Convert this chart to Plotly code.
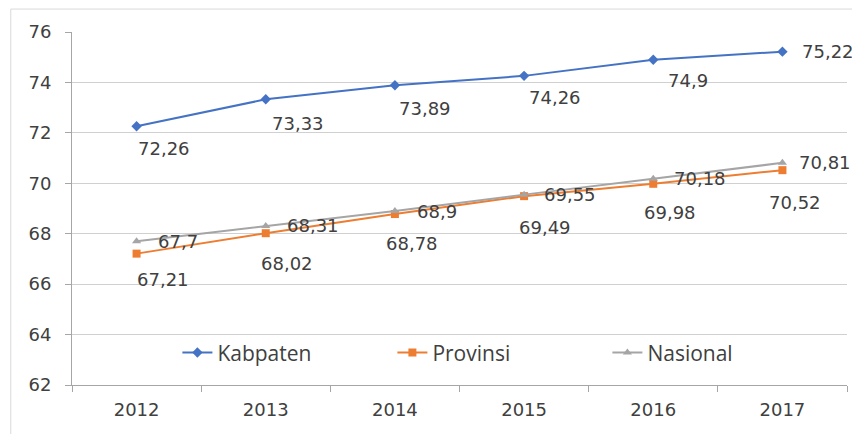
import plotly.graph_objects as go

years = ["2012", "2013", "2014", "2015", "2016", "2017"]
kabupaten = [72.26, 73.33, 73.89, 74.26, 74.9, 75.22]
provinsi = [67.21, 68.02, 68.78, 69.49, 69.98, 70.52]
nasional = [67.7, 68.31, 68.9, 69.55, 70.18, 70.81]


def fmt(v):
    # koma desimal seperti di gambar asli
    return ("%g" % v).replace(".", ",")


font = "DejaVu Sans, sans-serif"
label_color = "#404040"

series = [
    ("Kabpaten", kabupaten, "#4472C4", "diamond"),
    ("Provinsi", provinsi, "#ED7D31", "square"),
    ("Nasional", nasional, "#A5A5A5", "triangle-up"),
]

fig = go.Figure()
for name, vals, color, sym in series:
    fig.add_trace(go.Scatter(
        x=years, y=vals, name=name, mode="lines+markers",
        line=dict(color=color, width=2),
        marker=dict(symbol=sym, size=8, color=color),
        cliponaxis=False,
    ))

# posisi label (geser dalam piksel) per seri
shift_kab = [(27, -22), (32, -24), (30, -23), (31, -22), (35, -21), (46, 0)]
shift_prov = [(26, -26), (21, -30), (17, -29), (21, -31), (17, -29), (13, -32)]
shift_nas = [(41, 0), (47, 0), (42, 0), (46, 0), (47, 0), (43, 0)]

annotations = []
for vals, shifts in [(kabupaten, shift_kab), (provinsi, shift_prov), (nasional, shift_nas)]:
    # sumbu kategori: pakai indeks kategori sebagai posisi x
    for i, (v, (dx, dy)) in enumerate(zip(vals, shifts)):
        annotations.append(dict(
            x=i, y=v, xref="x", yref="y", text=fmt(v), showarrow=False,
            xshift=dx, yshift=dy, xanchor="center", yanchor="middle",
            font=dict(family=font, size=18, color=label_color),
        ))

# halaman punya margin body 8px, jadi ukuran figur dikurangi
fig.update_layout(
    width=852, height=426,
    margin=dict(l=64, r=13, t=24, b=49),
    paper_bgcolor="white", plot_bgcolor="white",
    font=dict(family=font, size=18, color=label_color),
    annotations=annotations,
    legend=dict(orientation="h", x=0.136, xanchor="left", y=0.091, yanchor="middle",
                bgcolor="rgba(0,0,0,0)", font=dict(family="Open Sans, sans-serif", size=21),
                entrywidth=170, entrywidthmode="pixels", traceorder="normal"),
    xaxis=dict(type="category", range=[-0.5, 5.5], showgrid=False,
               showline=True, linecolor="#a6a6a6", linewidth=1,
               ticks="outside", tickson="boundaries", ticklen=6, tickcolor="#a6a6a6",
               ticklabelstandoff=8),
    yaxis=dict(range=[62, 76], dtick=2, showgrid=True, gridcolor="#d0d0d0",
               showline=True, linecolor="#a6a6a6", linewidth=1,
               ticks="outside", ticklen=6, tickcolor="#a6a6a6", zeroline=False,
               ticklabelstandoff=10),
    shapes=[dict(type="rect", xref="paper", yref="paper", x0=-0.079, x1=1.05,
                 y0=-0.2, y1=1.065, line=dict(color="#d9d9d9", width=1))],
)

fig.write_html("out.html")
